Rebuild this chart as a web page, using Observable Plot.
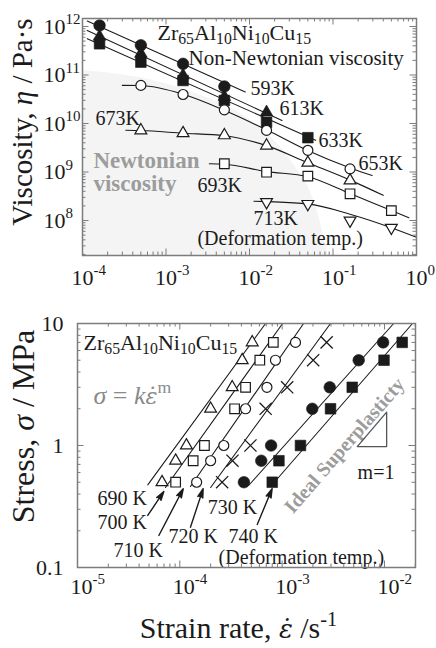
<!DOCTYPE html>
<html><head><meta charset="utf-8">
<script src="https://cdn.jsdelivr.net/npm/d3@7"></script>
<script src="https://cdn.jsdelivr.net/npm/@observablehq/plot@0.6"></script>
<style>
html,body{margin:0;padding:0;background:#fff;}
#wrap{position:relative;width:436px;height:648px;overflow:hidden;background:#fff;}
#top,#bot{position:absolute;left:0;}
#top{top:0;}
#bot{top:290px;}
</style></head>
<body><div id="wrap"><div id="top"></div><div id="bot"></div></div>
<script>
// ---------------- TOP PANEL DATA (viscosity vs strain rate) ----------------
const topRates = [1.6e-4, 5e-4, 1.6e-3, 5e-3, 1.6e-2, 5e-2, 1.6e-1, 5e-1];
const eta593 = [1.05e12, 4.1e11, 1.7e11, 5.8e10];                 // rates 0..3
const eta613 = [6.2e11, 2.75e11, 9.8e10, 3.55e10, 1.7e10];        // rates 0..4
const eta633 = [4.4e11, 1.84e11, 7.7e10, 2.98e10, 1.06e10, 5.1e9]; // rates 0..5
const eta653 = [6.1e10, 3.96e10, 1.91e10, 7.2e9, 2.8e9, 1.16e9];   // rates 1..6
const eta673 = [7.2e9, 6.3e9, 5.7e9, 3.5e9, 1.55e9, 6.7e8];        // rates 1..6
const eta693 = [1.48e9, 9.9e8, 8.2e8, 3.56e8, 1.6e8];              // rates 3..7
const eta713 = [2.4e8, 2.2e8, 1.0e8, 7.1e7];                       // rates 4..7

// fitted lines / curves
const fitRate593 = [1.14e-4, 8.9e-3],  fitEta593 = [1.29e12, 4.47e10];
const fitRate613 = [1.14e-4, 2.45e-2], fitEta613 = [8.3e11, 1.15e10];
const fitRate633 = [1.14e-4, 6.2e-2],  fitEta633 = [5.6e11, 4.5e9];
const fitRate653 = [3.0e-4, 5e-4, 1.6e-3, 4.9e-3, 1.6e-2, 4.9e-2, 1.7e-1, 2.95e-1];
const fitEta653  = [6.1e10, 6.05e10, 4.0e10, 1.9e10, 7.4e9, 2.8e9, 1.17e9, 8.5e8];
const fitRate673 = [3.3e-4, 5e-4, 1.6e-3, 5e-3, 1.6e-2, 5e-2, 1.6e-1, 0.40];
const fitEta673  = [7.25e9, 7.15e9, 6.3e9, 5.6e9, 3.5e9, 1.55e9, 6.8e8, 3.3e8];
const fitRate693 = [3.3e-3, 5e-3, 1.6e-2, 5e-2, 1.6e-1, 5e-1, 0.81];
const fitEta693  = [1.48e9, 1.45e9, 1.02e9, 8.0e8, 3.6e8, 1.6e8, 1.14e8];
const fitRate713 = [1.13e-2, 1.6e-2, 5e-2, 1.6e-1, 5e-1, 1.0];
const fitEta713  = [2.5e8, 2.45e8, 2.2e8, 1.35e8, 7.1e7, 4.5e7];

// Newtonian (shaded) region boundary
const newtRate = [1e-4, 7e-4, 2.6e-3, 1.03e-2, 3.1e-2, 6.2e-2, 8.8e-2];
const newtEta  = [1.24e11, 7.7e10, 3.8e10, 1.15e10, 1.73e9, 2.0e8, 1.9e7];

// annotations (anchor in data units)
const topLabelText = ["593K", "613K", "633K", "653K", "673K", "693K", "713K", "(Deformation temp.)"];
const topLabelRate = [1.03e-2, 2.29e-2, 6.7e-2, 0.202, 1.43e-4, 2.38e-3, 1.12e-2, 2.38e-3];
const topLabelEta  = [5.3e10, 2.04e10, 4.46e9, 1.5e9, 1.27e10, 5.27e8, 1.1e8, 4.26e7];

const topXDomain = [1e-4, 1];
const topYDomain = [1.9e7, 1.46e12];
const topXExp = [-4, -3, -2, -1, 0];
const topYExp = [8, 9, 10, 11, 12];

// ---------------- BOTTOM PANEL DATA (stress vs strain rate) ----------------
const stressLevels = [7, 5, 3, 2, 1, 0.75, 0.5];
const rate690 = [5.1e-4, 4.07e-4, 3.25e-4, 2.0e-4, 1.16e-4, 9.1e-5, 6.7e-5];
const rate700 = [8.2e-4, 6.05e-4, 4.39e-4, 3.43e-4, 1.74e-4, 1.35e-4, 9.1e-5];
const rate710 = [1.35e-3, 8.6e-4, 7.1e-4, 4.39e-4, 2.69e-4, 2.0e-4, 1.46e-4];
const rate720 = [2.72e-3, 2.01e-3, 1.12e-3, 6.9e-4, 4.9e-4, 3.27e-4, 2.59e-4];
const rate730 = [9.7e-3, 5.6e-3, 2.92e-3, 1.97e-3, 7.8e-4, 6.25e-4, 4.23e-4];
const rate740 = [1.49e-2, 9.9e-3, 4.84e-3, 2.97e-3, 1.51e-3, 9.3e-4, 8.0e-4];

const fitRate690 = [4.86e-5, 6.89e-4], fitStress690 = [0.476, 10];
const fitRate700 = [7.24e-5, 1.01e-3], fitStress700 = [0.453, 10];
const fitRate710 = [1.27e-4, 1.62e-3], fitStress710 = [0.461, 10];
const fitRate720 = [2.0e-4, 2.97e-3],  fitStress720 = [0.453, 10];
const fitRate730 = [4.7e-4, 1.23e-2],  fitStress730 = [0.47, 10];
const fitRate740 = [7.87e-4, 1.88e-2], fitStress740 = [0.47, 10];

// slope triangle (m = 1)
const slopeRate = [5.42e-3, 1.05e-2, 1.05e-2, 5.42e-3];
const slopeStress = [0.98, 0.98, 1.875, 0.98];

// arrows from temperature labels
const arrowRate1 = [4.86e-5, 6.24e-5, 1.27e-4, 5.71e-4];
const arrowStress1 = [0.267, 0.183, 0.214, 0.225];
const arrowRate2 = [6.98e-5, 1.08e-4, 1.69e-4, 7.98e-4];
const arrowStress2 = [0.42, 0.442, 0.442, 0.442];

const botLabelText = ["690 K", "700 K", "710 K", "720 K", "730 K", "740 K", "(Deformation temp.)", "m=1"];
const botLabelRate = [1.57e-5, 1.57e-5, 2.25e-5, 7.76e-5, 1.87e-4, 2.99e-4, 2.39e-4, 5.46e-3];
const botLabelStress = [0.368, 0.234, 0.138, 0.178, 0.31, 0.178, 0.12, 0.60];

const botXDomain = [1e-5, 0.0201];
const botYDomain = [0.1, 10];
const botXExp = [-5, -4, -3, -2];
const botYTicks = [0.1, 1, 10];
const botYTickText = ["0.1", "1", "10"];

// ---------------- helpers ----------------
const FONT = '"Liberation Serif", "Times New Roman", serif';
const INK = "#1b1b1b";
const AXIS = "#7c7c7c";
const GRAYTXT = "#9c9c9c";

const pts = (rates, vals) => vals.map((v, i) => ({x: rates[i], y: v}));

const triDown = {
  draw(context, size) {
    const y = -Math.sqrt(size / (Math.sqrt(3) * 3));
    context.moveTo(0, -y * 2);
    context.lineTo(-Math.sqrt(3) * y, y);
    context.lineTo(Math.sqrt(3) * y, y);
    context.closePath();
  }
};

function logTicks(domain) {
  const lo = Math.floor(Math.log10(domain[0])), hi = Math.ceil(Math.log10(domain[1]));
  const major = [], minor = [];
  for (let e = lo; e <= hi; e++) for (let k = 1; k < 10; k++) {
    const v = k * Math.pow(10, e);
    if (v < domain[0] * 0.999 || v > domain[1] * 1.001) continue;
    (k === 1 ? major : minor).push(v);
  }
  return {major, minor};
}

function tickMarks(xd, yd, W, H) {
  const xt = logTicks(xd), yt = logTicks(yd);
  const s = {stroke: AXIS, strokeWidth: 1};
  const out = [];
  [[xt.minor, 3.5], [xt.major, 6.5]].forEach(([v, L]) => {
    out.push(Plot.ruleX(v, {x: d => d, insetTop: H - L, ...s}));
    out.push(Plot.ruleX(v, {x: d => d, insetBottom: H - L, ...s}));
  });
  [[yt.minor, 3.5], [yt.major, 6.5]].forEach(([v, L]) => {
    out.push(Plot.ruleY(v, {y: d => d, insetRight: W - L, ...s}));
    out.push(Plot.ruleY(v, {y: d => d, insetLeft: W - L, ...s}));
  });
  return out;
}

// turn ^{..} _{..} *{..} @{..} (italic with combining over-dot) into tspans
function rich(root) {
  root.querySelectorAll("text").forEach(t => {
    if (t.children.length) return;
    const s = t.textContent;
    if (!/[\^_*@]\{/.test(s)) return;
    const fs = parseFloat(getComputedStyle(t).fontSize) || 16;
    t.textContent = "";
    const re = /([\^_*@])\{([^}]*)\}/g;
    let last = 0, shift = 0, m;
    const add = (txt, kind) => {
      const ts = document.createElementNS("http://www.w3.org/2000/svg", "tspan");
      let target = 0;
      if (kind === "^") { target = -0.42 * fs; ts.setAttribute("font-size", (0.68 * fs).toFixed(1)); }
      else if (kind === "_") { target = 0.22 * fs; ts.setAttribute("font-size", (0.72 * fs).toFixed(1)); }
      else if (kind === "*") ts.setAttribute("font-style", "italic");
      else if (kind === "@") {
        ts.setAttribute("font-style", "italic");
        ts.setAttribute("font-family", '"DejaVu Serif", serif');
        ts.setAttribute("font-size", (0.86 * fs).toFixed(1));
        txt = txt + "\u0307";
      }
      const dy = target - shift;
      if (Math.abs(dy) > 0.01) ts.setAttribute("dy", dy.toFixed(2));
      shift = target;
      ts.textContent = txt;
      t.appendChild(ts);
    };
    while ((m = re.exec(s))) {
      if (m.index > last) add(s.slice(last, m.index), "");
      add(m[2], m[1]);
      last = re.lastIndex;
    }
    if (last < s.length) add(s.slice(last), "");
  });
}

const open = {fill: "white", stroke: INK, strokeWidth: 1.2};
const solid = {fill: INK, stroke: INK, strokeWidth: 0.6};
const lineStyle = {stroke: INK, strokeWidth: 1.1};

// ---------------- TOP PLOT ----------------
const TW = 436, TH = 290, TML = 82, TMR = 20, TMT = 18, TMB = 35;
const topPlot = Plot.plot({
  width: TW, height: TH, marginLeft: TML, marginRight: TMR, marginTop: TMT, marginBottom: TMB,
  style: {fontFamily: FONT, background: "white", color: INK, overflow: "visible"},
  x: {type: "log", domain: topXDomain, axis: null},
  y: {type: "log", domain: topYDomain, axis: null},
  marks: [
    Plot.areaY(newtRate.map((r, i) => ({x: r, y: newtEta[i]})),
      {x: "x", y1: () => topYDomain[0], y2: "y", fill: "#f4f4f4", curve: "monotone-x"}),
    Plot.text(["Newtonian", "viscosity"], {x: () => 1.35e-4, y: (d, i) => [1.73e9, 5.8e8][i], text: d => d,
      textAnchor: "start", fontSize: 23, fontWeight: "bold", fill: GRAYTXT}),
    Plot.line(pts(fitRate593, fitEta593), {x: "x", y: "y", ...lineStyle}),
    Plot.line(pts(fitRate613, fitEta613), {x: "x", y: "y", ...lineStyle}),
    Plot.line(pts(fitRate633, fitEta633), {x: "x", y: "y", ...lineStyle}),
    Plot.line(pts(fitRate653, fitEta653), {x: "x", y: "y", curve: "monotone-x", ...lineStyle}),
    Plot.line(pts(fitRate673, fitEta673), {x: "x", y: "y", curve: "monotone-x", ...lineStyle}),
    Plot.line(pts(fitRate693, fitEta693), {x: "x", y: "y", curve: "monotone-x", ...lineStyle}),
    Plot.line(pts(fitRate713, fitEta713), {x: "x", y: "y", curve: "monotone-x", ...lineStyle}),
    Plot.dot(pts(topRates, eta633), {x: "x", y: "y", symbol: "square", r: 6, ...solid}),
    Plot.dot(pts(topRates, eta613), {x: "x", y: "y", symbol: "triangle", r: 4.7, ...solid}),
    Plot.dot(pts(topRates, eta593), {x: "x", y: "y", symbol: "circle", r: 5.8, ...solid}),
    Plot.dot(pts(topRates.slice(1), eta653), {x: "x", y: "y", symbol: "circle", r: 5, ...open}),
    Plot.dot(pts(topRates.slice(1), eta673), {x: "x", y: "y", symbol: "triangle", r: 4.4, ...open}),
    Plot.dot(pts(topRates.slice(3), eta693), {x: "x", y: "y", symbol: "square", r: 5.4, ...open}),
    Plot.dot(pts(topRates.slice(4), eta713), {x: "x", y: "y", symbol: triDown, r: 4.4, ...open}),
    Plot.text(topLabelText, {x: (d, i) => topLabelRate[i], y: (d, i) => topLabelEta[i], text: d => d,
      textAnchor: "start", fontSize: 20, fill: INK}),
    Plot.text(["Zr_{65}Al_{10}Ni_{10}Cu_{15}"], {x: () => 7.9e-4, y: () => 7.5e11, text: d => d,
      textAnchor: "start", fontSize: 22, fill: INK}),
    Plot.text(["Non-Newtonian viscosity"], {x: () => 1.86e-3, y: () => 2.19e11, text: d => d,
      textAnchor: "start", fontSize: 21, fill: INK}),
    ...tickMarks(topXDomain, topYDomain, TW - TML - TMR, TH - TMT - TMB),
    Plot.frame({stroke: AXIS, strokeWidth: 1.5}),
    Plot.text(topXExp, {x: e => Math.pow(10, e), frameAnchor: "bottom", lineAnchor: "middle", dy: 22, dx: -11,
      textAnchor: "start", text: e => `10^{${e < 0 ? "-" + (-e) : e}}`, fontSize: 22, fill: INK}),
    Plot.text(topYExp, {y: e => Math.pow(10, e), frameAnchor: "left", lineAnchor: "middle", dx: -39,
      textAnchor: "start", text: e => `10^{${e}}`, fontSize: 22, fill: INK}),
    Plot.text(["Viscosity, *{η} / Pa·s"], {frameAnchor: "left", textAnchor: "middle", lineAnchor: "middle",
      dx: -60, dy: -15, rotate: -90, text: d => d, fontSize: 29, fill: INK})
  ]
});
document.getElementById("top").appendChild(topPlot);
rich(topPlot);

// ---------------- BOTTOM PLOT ----------------
const BW = 436, BH = 358, BML = 77, BMR = 21, BMT = 33, BMB = 81;
const botPlot = Plot.plot({
  width: BW, height: BH, marginLeft: BML, marginRight: BMR, marginTop: BMT, marginBottom: BMB,
  style: {fontFamily: FONT, background: "white", color: INK, overflow: "visible"},
  x: {type: "log", domain: botXDomain, axis: null},
  y: {type: "log", domain: botYDomain, axis: null},
  marks: [
    Plot.text(["Ideal Superplasticty"], {x: () => 4.07e-3, y: () => 1.0, text: d => d, rotate: -49,
      fontSize: 20, fontWeight: "bold", fill: GRAYTXT}),
    Plot.line(pts(fitRate690, fitStress690), {x: "x", y: "y", ...lineStyle}),
    Plot.line(pts(fitRate700, fitStress700), {x: "x", y: "y", ...lineStyle}),
    Plot.line(pts(fitRate710, fitStress710), {x: "x", y: "y", ...lineStyle}),
    Plot.line(pts(fitRate720, fitStress720), {x: "x", y: "y", ...lineStyle}),
    Plot.line(pts(fitRate730, fitStress730), {x: "x", y: "y", ...lineStyle}),
    Plot.line(pts(fitRate740, fitStress740), {x: "x", y: "y", ...lineStyle}),
    Plot.dot(pts(rate690, stressLevels), {x: "x", y: "y", symbol: "triangle", r: 4.4, ...open}),
    Plot.dot(pts(rate700, stressLevels), {x: "x", y: "y", symbol: "square", r: 5.4, ...open}),
    Plot.dot(pts(rate710, stressLevels), {x: "x", y: "y", symbol: "circle", r: 5, ...open}),
    Plot.dot(pts(rate720, stressLevels), {x: "x", y: "y", symbol: "times", r: 5.6, stroke: INK, strokeWidth: 1.3}),
    Plot.dot(pts(rate730, stressLevels), {x: "x", y: "y", symbol: "circle", r: 5.8, ...solid}),
    Plot.dot(pts(rate740, stressLevels), {x: "x", y: "y", symbol: "square", r: 6, ...solid}),
    Plot.line(pts(slopeRate, slopeStress), {x: "x", y: "y", stroke: "#555", strokeWidth: 1.3}),
    Plot.arrow(arrowRate1.map((r, i) => i), {x1: i => arrowRate1[i], y1: i => arrowStress1[i],
      x2: i => arrowRate2[i], y2: i => arrowStress2[i], stroke: INK, strokeWidth: 1.4, headLength: 10, headAngle: 32}),
    Plot.text(botLabelText, {x: (d, i) => botLabelRate[i], y: (d, i) => botLabelStress[i], text: d => d,
      textAnchor: "start", fontSize: 20, fill: INK}),
    Plot.text(["Zr_{65}Al_{10}Ni_{10}Cu_{15}"], {x: () => 1.146e-5, y: () => 6.98, text: d => d,
      textAnchor: "start", fontSize: 22, fill: INK}),
    Plot.text(["*{σ} = *{k}@{ε}^{m}"], {x: () => 1.43e-5, y: () => 2.57, text: d => d,
      textAnchor: "start", fontSize: 26, fill: "#8a8a8a"}),
    ...tickMarks(botXDomain, botYDomain, BW - BML - BMR, BH - BMT - BMB),
    Plot.frame({stroke: AXIS, strokeWidth: 1.5}),
    Plot.text(botXExp, {x: e => Math.pow(10, e), frameAnchor: "bottom", lineAnchor: "middle", dy: 19, dx: -7,
      textAnchor: "start", text: e => `10^{-${-e}}`, fontSize: 22, fill: INK}),
    Plot.text(botYTicks, {y: d => d, frameAnchor: "left", lineAnchor: "middle", dx: -14, textAnchor: "end",
      text: (d, i) => botYTickText[i], fontSize: 22, fill: INK}),
    Plot.text(["Stress, *{σ} / MPa"], {frameAnchor: "left", textAnchor: "middle", lineAnchor: "middle",
      dx: -54, dy: -19, rotate: -90, text: d => d, fontSize: 32, fill: INK}),
    Plot.text(["Strain rate, @{ε} /s^{-1}"], {frameAnchor: "bottom", textAnchor: "middle", lineAnchor: "middle",
      dx: -8, dy: 61, text: d => d, fontSize: 30, fill: INK})
  ]
});
document.getElementById("bot").appendChild(botPlot);
rich(botPlot);
botPlot.querySelectorAll('g[aria-label="arrow"] path').forEach(p => p.setAttribute("fill", INK));
</script>
</body></html>
